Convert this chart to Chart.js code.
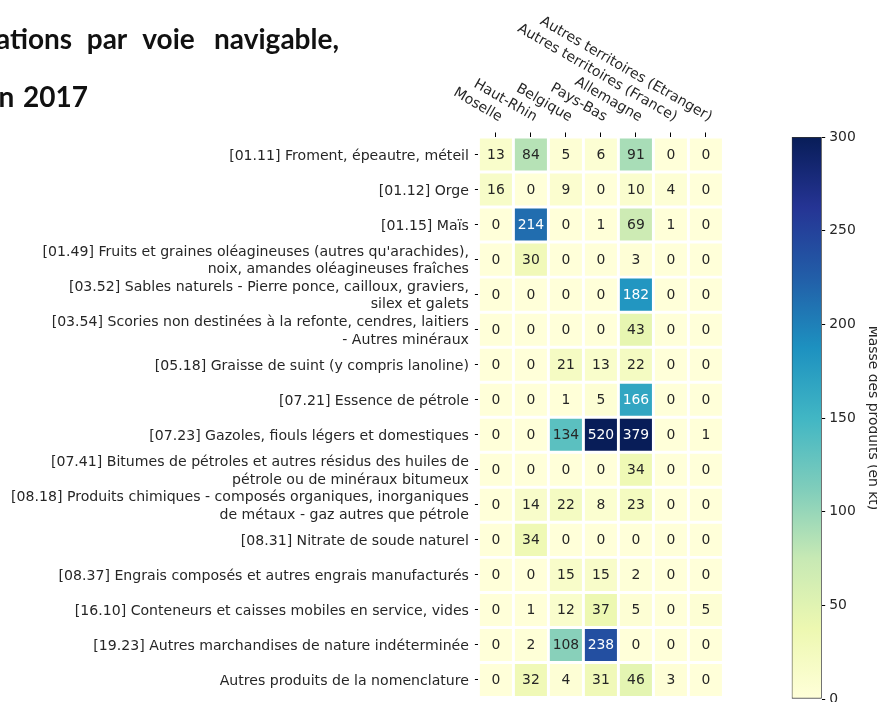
<!DOCTYPE html>
<html>
<head>
<meta charset="utf-8">
<script src="https://cdn.jsdelivr.net/npm/chart.js@4.4.0/dist/chart.umd.min.js"></script>
<style>
  html, body { margin: 0; padding: 0; background: #ffffff; overflow: hidden; }
  #wrap { position: relative; width: 877px; height: 702px; }
  #wrap canvas { position: absolute; left: 0; top: 0; }
</style>
</head>
<body>
<div id="wrap">
  <canvas id="heat" width="877" height="702"></canvas>
  <canvas id="barre" width="877" height="702"></canvas>
</div>
<script>
// Produits (lignes de la matrice)
const produits = [
  "[01.11] Froment, épeautre, méteil",
  "[01.12] Orge",
  "[01.15] Maïs",
  ["[01.49] Fruits et graines oléagineuses (autres qu'arachides),", "noix, amandes oléagineuses fraîches"],
  ["[03.52] Sables naturels - Pierre ponce, cailloux, graviers,", "silex et galets"],
  ["[03.54] Scories non destinées à la refonte, cendres, laitiers", "- Autres minéraux"],
  "[05.18] Graisse de suint (y compris lanoline)",
  "[07.21] Essence de pétrole",
  "[07.23] Gazoles, fiouls légers et domestiques",
  ["[07.41] Bitumes de pétroles et autres résidus des huiles de", "pétrole ou de minéraux bitumeux"],
  ["[08.18] Produits chimiques - composés organiques, inorganiques", "de métaux - gaz autres que pétrole"],
  "[08.31] Nitrate de soude naturel",
  "[08.37] Engrais composés et autres engrais manufacturés",
  "[16.10] Conteneurs et caisses mobiles en service, vides",
  "[19.23] Autres marchandises de nature indéterminée",
  "Autres produits de la nomenclature"
];

// Provenances (colonnes de la matrice)
const origines = [
  "Moselle",
  "Haut-Rhin",
  "Belgique",
  "Pays-Bas",
  "Allemagne",
  "Autres territoires (France)",
  "Autres territoires (Etranger)"
];

// Masse des produits par provenance (kt), une valeur par produit
const moselle        = [13, 16, 0, 0, 0, 0, 0, 0, 0, 0, 0, 0, 0, 0, 0, 0];
const hautRhin       = [84, 0, 214, 30, 0, 0, 0, 0, 0, 0, 14, 34, 0, 1, 2, 32];
const belgique       = [5, 9, 0, 0, 0, 0, 21, 1, 134, 0, 22, 0, 15, 12, 108, 4];
const paysBas        = [6, 0, 1, 0, 0, 0, 13, 5, 520, 0, 8, 0, 15, 37, 238, 31];
const allemagne      = [91, 10, 69, 3, 182, 43, 22, 166, 379, 34, 23, 0, 2, 5, 0, 46];
const autresFrance   = [0, 4, 1, 0, 0, 0, 0, 0, 0, 0, 0, 0, 0, 0, 0, 3];
const autresEtranger = [0, 0, 0, 0, 0, 0, 0, 0, 1, 0, 0, 0, 0, 5, 0, 0];

const colonnes = [moselle, hautRhin, belgique, paysBas, allemagne, autresFrance, autresEtranger];

// Échelle de couleur
const echelleMin = 0;
const echelleMax = 300;
const echellePas = 50;

const titreLignes = [
  ["ations", "par", "voie", "navigable,"],
  ["n", "2017"]
];

// Palette YlGnBu (9 classes)
const YLGNBU = ["#ffffd9", "#edf8b1", "#c7e9b4", "#7fcdbb", "#41b6c4", "#1d91c0", "#225ea8", "#253494", "#081d58"];

function hexRgb(h) {
  return [1, 3, 5].map(i => parseInt(h.substr(i, 2), 16));
}
function couleur(v) {
  const t = Math.max(0, Math.min(1, (v - echelleMin) / (echelleMax - echelleMin)));
  const p = t * (YLGNBU.length - 1);
  const i = Math.min(YLGNBU.length - 2, Math.floor(p));
  const f = p - i;
  const a = hexRgb(YLGNBU[i]), b = hexRgb(YLGNBU[i + 1]);
  return a.map((c, k) => Math.round(c + (b[k] - c) * f));
}
function rgbTexte(c) { return "rgb(" + c.join(",") + ")"; }
function luminance(c) {
  const l = c.map(x => {
    x /= 255;
    return x <= 0.03928 ? x / 12.92 : Math.pow((x + 0.055) / 1.055, 2.4);
  });
  return 0.2126 * l[0] + 0.7152 * l[1] + 0.0722 * l[2];
}

const POLICE = "DejaVu Sans";
const TAILLE = 14.1;
const ENCRE = "#262626";

Chart.defaults.font.family = POLICE;
Chart.defaults.font.size = TAILLE;
Chart.defaults.color = ENCRE;

// Valeurs écrites dans chaque case
const valeursCases = {
  id: "valeursCases",
  afterDatasetsDraw(chart) {
    const ctx = chart.ctx;
    ctx.save();
    ctx.font = "13.9px '" + POLICE + "'";
    ctx.textAlign = "center";
    ctx.textBaseline = "middle";
    chart.data.datasets.forEach((ds, j) => {
      chart.getDatasetMeta(j).data.forEach((barre, i) => {
        const v = colonnes[j][i];
        ctx.fillStyle = luminance(couleur(v)) > 0.408 ? ENCRE : "#ffffff";
        const p = barre.getCenterPoint();
        ctx.fillText(String(v), p.x, p.y + 0.5);
      });
    });
    ctx.restore();
  }
};

// Libellés des colonnes, inclinés au-dessus de la matrice
const libellesColonnes = {
  id: "libellesColonnes",
  afterDraw(chart) {
    const ctx = chart.ctx;
    const sx = chart.scales.x;
    ctx.save();
    ctx.font = TAILLE + "px '" + POLICE + "'";
    ctx.fillStyle = ENCRE;
    ctx.textAlign = "right";
    ctx.textBaseline = "alphabetic";
    origines.forEach((lab, j) => {
      const x = sx.getPixelForValue(j + 0.5);
      ctx.save();
      ctx.translate(x + 3, sx.bottom - 15.5);
      ctx.rotate(Math.PI / 6);
      ctx.fillText(lab, 0, 0);
      ctx.restore();
    });
    ctx.restore();
  }
};

// Titre
const titre = {
  id: "titre",
  afterDraw(chart) {
    const ctx = chart.ctx;
    ctx.save();
    ctx.font = "bold 28px Lato";
    ctx.fillStyle = "#111111";
    ctx.textAlign = "center";
    ctx.textBaseline = "alphabetic";
    const centres = [[34, 107, 168.5, 276.5], [6.5, 55.5]];
    const lignesY = [48.5, 107];
    titreLignes.forEach((mots, l) => {
      mots.forEach((m, k) => ctx.fillText(m, centres[l][k], lignesY[l]));
    });
    ctx.restore();
  }
};

new Chart(document.getElementById("heat"), {
  type: "bar",
  data: {
    labels: produits,
    datasets: colonnes.map((vals, j) => ({
      label: origines[j],
      data: produits.map(() => [j, j + 1]),
      backgroundColor: vals.map(v => rgbTexte(couleur(v))),
      borderColor: "#ffffff",
      borderWidth: 1.8,
      borderSkipped: false,
      barPercentage: 1,
      categoryPercentage: 1,
      grouped: false
    }))
  },
  options: {
    indexAxis: "y",
    responsive: false,
    animation: false,
    devicePixelRatio: 1,
    layout: { padding: { left: 0, top: 0, right: 153.6, bottom: 4.5 } },
    plugins: { legend: { display: false }, tooltip: { enabled: false }, title: { display: false } },
    scales: {
      x: {
        type: "linear",
        position: "top",
        min: 0,
        max: origines.length,
        afterBuildTicks: s => { s.ticks = origines.map((_, j) => ({ value: j + 0.5 })); },
        ticks: { display: false },
        grid: { drawOnChartArea: false, drawTicks: true, tickLength: 4.5, tickColor: "#000000", lineWidth: 1 },
        border: { display: false },
        afterFit: s => { s.height = 137; s.paddingLeft = 0; s.paddingRight = 0; }
      },
      y: {
        type: "category",
        position: "left",
        ticks: { autoSkip: false, padding: 6, labelOffset: 1.5, color: ENCRE, font: { family: POLICE, size: TAILLE, lineHeight: 1.23 } },
        grid: { drawOnChartArea: false, offset: false, tickLength: 3.5, tickColor: "#000000", lineWidth: 1 },
        border: { display: false },
        afterFit: s => { s.width = 478.4; s.paddingTop = 0; s.paddingBottom = 0; }
      }
    }
  },
  plugins: [valeursCases, libellesColonnes, titre]
});

// Barre de couleur
new Chart(document.getElementById("barre"), {
  type: "bar",
  data: {
    labels: [""],
    datasets: [{
      data: [[echelleMin, echelleMax]],
      backgroundColor: c => {
        const a = c.chart.chartArea;
        if (!a) return YLGNBU[0];
        const g = c.chart.ctx.createLinearGradient(0, a.bottom, 0, a.top);
        YLGNBU.forEach((col, k) => g.addColorStop(k / (YLGNBU.length - 1), col));
        return g;
      },
      borderColor: "#333333",
      borderWidth: 1,
      borderSkipped: false,
      barPercentage: 1,
      categoryPercentage: 1
    }]
  },
  options: {
    responsive: false,
    animation: false,
    devicePixelRatio: 1,
    layout: { padding: { left: 791.7, top: 137, right: 0, bottom: 3 } },
    plugins: { legend: { display: false }, tooltip: { enabled: false } },
    scales: {
      x: { display: false },
      y: {
        position: "right",
        min: echelleMin,
        max: echelleMax,
        ticks: { stepSize: echellePas, padding: 4, color: ENCRE, font: { family: POLICE, size: 13.9 } },
        grid: { drawOnChartArea: false, tickLength: 3.5, tickColor: "#000000", lineWidth: 1 },
        border: { display: false },
        title: { display: true, text: "Masse des produits (en kt)", color: ENCRE, font: { family: POLICE, size: 13.9 }, padding: { top: -3.5, bottom: -3.5 } },
        afterFit: s => { s.width = 877 - 821.7; s.paddingTop = 0; s.paddingBottom = 0; }
      }
    }
  }
});
</script>
</body>
</html>
